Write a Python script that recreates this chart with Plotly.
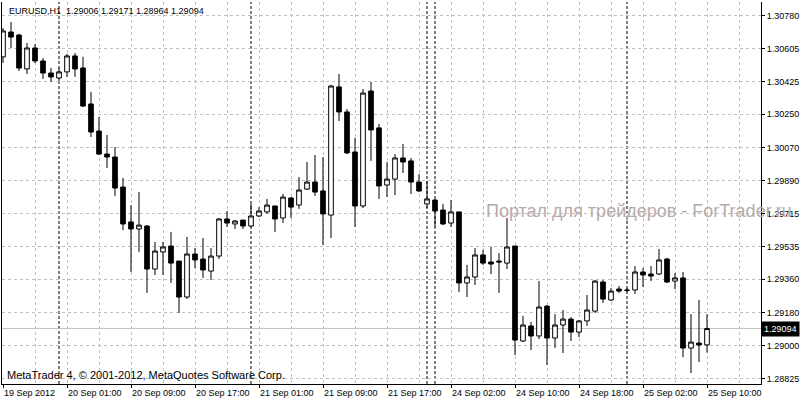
import plotly.graph_objects as go
import pandas as pd

# ---- data (EURUSD H1) ----
session_1 = pd.date_range("2012-09-19 17:00", "2012-09-21 21:00", freq="h")
session_2 = pd.date_range("2012-09-23 23:00", "2012-09-23 23:00", freq="h")
session_3 = pd.date_range("2012-09-24 00:00", "2012-09-25 10:00", freq="h")
times = list(session_1) + list(session_2) + list(session_3)

opens = [1.30559, 1.30693, 1.30677, 1.30494, 1.30607, 1.30537, 1.30472, 1.30445, 1.30478, 1.30564,
         1.30499, 1.30305, 1.30159, 1.30035, 1.30019, 1.29857, 1.29669, 1.29631, 1.29647, 1.29415,
         1.29507, 1.29539, 1.29458, 1.29264, 1.29496, 1.29469, 1.29404, 1.29485, 1.29685, 1.29658,
         1.29679, 1.29647, 1.29701, 1.29723, 1.29755, 1.29690, 1.29798, 1.29760, 1.29846, 1.29884,
         1.29836, 1.29706, 1.30397, 1.30262, 1.30046, 1.29755, 1.30375, 1.30176, 1.29868, 1.29900,
         1.30014, 1.29998, 1.29884, 1.29766, 1.29787, 1.29733, 1.29663, 1.29723, 1.29340, 1.29372,
         1.29491, 1.29453, 1.29458, 1.29447, 1.29539, 1.29027, 1.29108, 1.29054, 1.29215, 1.29043,
         1.29113, 1.29145, 1.29075, 1.29135, 1.29188, 1.29345, 1.29248, 1.29307, 1.29302, 1.29302,
         1.29399, 1.29388, 1.29388, 1.29469, 1.29350, 1.29367, 1.28989, 1.29016, 1.29006]
highs = [1.30715, 1.30747, 1.30683, 1.30634, 1.30629, 1.30553, 1.30499, 1.30499, 1.30575, 1.30580,
         1.30559, 1.30370, 1.30235, 1.30138, 1.30073, 1.29906, 1.29760, 1.29830, 1.29652, 1.29561,
         1.29561, 1.29615, 1.29458, 1.29588, 1.29528, 1.29582, 1.29528, 1.29690, 1.29728, 1.29679,
         1.29679, 1.29766, 1.29749, 1.29793, 1.29755, 1.29820, 1.29803, 1.29911, 1.29992, 1.30030,
         1.30019, 1.30408, 1.30467, 1.30278, 1.30122, 1.30386, 1.30424, 1.30197, 1.29992, 1.30035,
         1.30089, 1.30014, 1.29927, 1.29890, 1.29793, 1.29766, 1.29787, 1.29723, 1.29437, 1.29528,
         1.29518, 1.29534, 1.29501, 1.29690, 1.29539, 1.29162, 1.29129, 1.29350, 1.29221, 1.29172,
         1.29194, 1.29156, 1.29140, 1.29275, 1.29356, 1.29356, 1.29313, 1.29323, 1.29313, 1.29431,
         1.29420, 1.29431, 1.29523, 1.29475, 1.29393, 1.29399, 1.29172, 1.29248, 1.29171]
lows = [1.30526, 1.30607, 1.30483, 1.30467, 1.30526, 1.30440, 1.30424, 1.30429, 1.30451, 1.30451,
        1.30289, 1.30127, 1.30030, 1.29960, 1.29809, 1.29625, 1.29399, 1.29507, 1.29286, 1.29383,
        1.29383, 1.29340, 1.29178, 1.29253, 1.29420, 1.29367, 1.29356, 1.29469, 1.29642, 1.29631,
        1.29631, 1.29642, 1.29696, 1.29712, 1.29615, 1.29663, 1.29690, 1.29739, 1.29841, 1.29809,
        1.29545, 1.29582, 1.30213, 1.30035, 1.29642, 1.29744, 1.29998, 1.29793, 1.29803, 1.29814,
        1.29933, 1.29820, 1.29830, 1.29744, 1.29642, 1.29652, 1.29642, 1.29291, 1.29264, 1.29329,
        1.29437, 1.29388, 1.29286, 1.29415, 1.28951, 1.29021, 1.28978, 1.29037, 1.28897, 1.28989,
        1.28962, 1.29027, 1.29048, 1.29108, 1.29178, 1.29232, 1.29242, 1.29286, 1.29291, 1.29280,
        1.29318, 1.29350, 1.29383, 1.29340, 1.29307, 1.28940, 1.28854, 1.28913, 1.28964]
closes = [1.30699, 1.30666, 1.30499, 1.30607, 1.30537, 1.30472, 1.30451, 1.30478, 1.30564, 1.30494,
          1.30294, 1.30154, 1.30035, 1.30019, 1.29852, 1.29658, 1.29631, 1.29652, 1.29415, 1.29512,
          1.29534, 1.29447, 1.29264, 1.29496, 1.29464, 1.29410, 1.29485, 1.29685, 1.29663, 1.29674,
          1.29647, 1.29701, 1.29728, 1.29760, 1.29685, 1.29803, 1.29749, 1.29841, 1.29884, 1.29830,
          1.29712, 1.30402, 1.30262, 1.30041, 1.29755, 1.30364, 1.30165, 1.29863, 1.29900, 1.30014,
          1.29992, 1.29884, 1.29836, 1.29793, 1.29728, 1.29658, 1.29723, 1.29340, 1.29372, 1.29491,
          1.29447, 1.29442, 1.29453, 1.29534, 1.29032, 1.29113, 1.29054, 1.29210, 1.29043, 1.29113,
          1.29145, 1.29075, 1.29135, 1.29194, 1.29350, 1.29253, 1.29296, 1.29296, 1.29300, 1.29399,
          1.29383, 1.29377, 1.29464, 1.29345, 1.29367, 1.28989, 1.29021, 1.29005, 1.29094]

price_ticks = [1.30780, 1.30605, 1.30425, 1.30250, 1.30070, 1.29890, 1.29715,
               1.29535, 1.29360, 1.29180, 1.29000, 1.28825]
price_tick_text = ["%.5f" % v for v in price_ticks]
bid = closes[-1]
symbol = "EURUSD,H1"

# ---- derived ----
idx = list(range(len(times)))
label_idx = idx[::8]
label_text = []
for k in label_idx:
    t = times[k]
    label_text.append(t.strftime("%d %b %Y") if k == 0 else t.strftime("%d %b %H:%M"))
separators = [i for i in idx if i > 0 and times[i].date() != times[i - 1].date()]

FONT = "Liberation Sans, Arial, sans-serif"

fig = go.Figure()
fig.add_trace(go.Candlestick(
    x=idx, open=opens, high=highs, low=lows, close=closes,
    increasing=dict(line=dict(color="black", width=1), fillcolor="white"),
    decreasing=dict(line=dict(color="black", width=1), fillcolor="black"),
    whiskerwidth=0, hoverinfo="skip", showlegend=False,
))

shapes = []
for s in separators:
    shapes.append(dict(type="line", xref="x", yref="paper", x0=s, x1=s, y0=0, y1=1,
                       line=dict(color="black", width=1, dash="3px,2px"), layer="below"))
shapes.append(dict(type="line", xref="paper", yref="y", x0=0, x1=1, y0=bid, y1=bid,
                   line=dict(color="#c0c0c0", width=1), layer="below"))
fig.update_layout(shapes=shapes)

fig.add_annotation(xref="paper", yref="paper", x=0.006, y=0.976, xanchor="left", yanchor="middle",
                   text="%s&nbsp;&nbsp;%.5f %.5f %.5f %.5f" % (symbol, opens[-1], highs[-1], lows[-1], closes[-1]),
                   showarrow=False, font=dict(family=FONT, size=9, color="black"))
fig.add_annotation(xref="paper", yref="paper", x=0.004, y=0.024, xanchor="left", yanchor="middle",
                   text="MetaTrader 4, © 2001-2012, MetaQuotes Software Corp.",
                   showarrow=False, font=dict(family=FONT, size=11, color="black"))
fig.add_annotation(xref="paper", yref="paper", x=0.635, y=0.453, xanchor="left", yanchor="middle",
                   text="Портал для трейдеров - ForTrader.ru",
                   showarrow=False, font=dict(family=FONT, size=18, color="#b8aaaa"))
fig.add_annotation(xref="paper", yref="y", x=1.0, y=bid, xanchor="left", yanchor="middle",
                   text="%.5f" % bid, showarrow=False, bgcolor="black", borderpad=2,
                   font=dict(family=FONT, size=9, color="white"))

fig.update_layout(
    width=800, height=400,
    margin=dict(l=2, r=39, t=2, b=16, autoexpand=False),
    paper_bgcolor="white", plot_bgcolor="white",
    boxgap=0.42, boxgroupgap=0,
    font=dict(family=FONT, size=9, color="black"),
    xaxis=dict(
        range=[-0.125, 94.75], rangeslider=dict(visible=False),
        tickmode="array", tickvals=label_idx, ticktext=label_text,
        ticklabelposition="outside right",
        ticks="outside", ticklen=3, tickcolor="black",
        showgrid=True, gridcolor="#c0c0c0", griddash="3px,3px", gridwidth=1,
        minor=dict(tick0=0, dtick=4, showgrid=True, gridcolor="#c0c0c0", griddash="3px,3px", ticks=""),
        showline=True, linecolor="black", linewidth=1, mirror=False,
        zeroline=False, fixedrange=True, automargin=False,
        tickfont=dict(family=FONT, size=9, color="black"),
    ),
    yaxis=dict(
        range=[1.28795, 1.30855], side="right",
        tickmode="array", tickvals=price_ticks, ticktext=price_tick_text,
        ticks="outside", ticklen=3, tickcolor="black",
        showgrid=True, gridcolor="#c0c0c0", griddash="3px,3px", gridwidth=1,
        showline=True, linecolor="black", linewidth=1, mirror=True,
        zeroline=False, fixedrange=True, automargin=False,
        tickfont=dict(family=FONT, size=9, color="black"),
    ),
)

fig.write_html("out.html", config={"displayModeBar": False},
               post_script="document.body.style.margin='0';document.body.style.padding='0';document.body.style.overflow='hidden';")
